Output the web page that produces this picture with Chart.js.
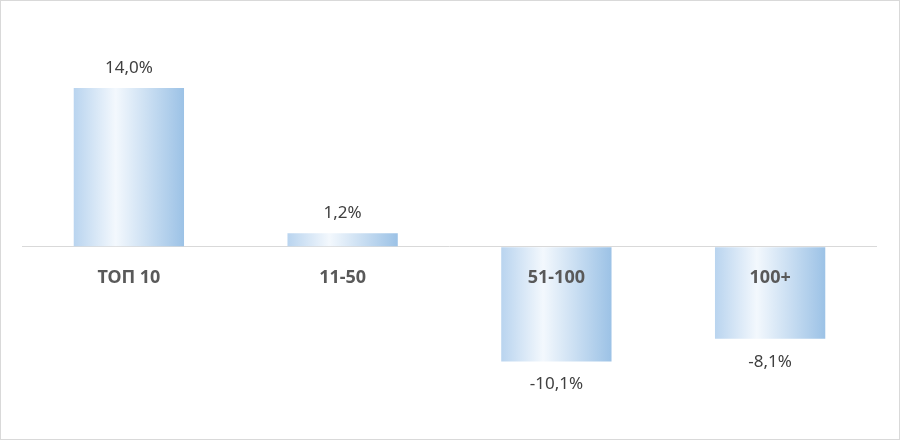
<!DOCTYPE html>
<html>
<head>
<meta charset="utf-8">
<script src="https://cdn.jsdelivr.net/npm/chart.js@4"></script>
<style>
  html, body { margin: 0; padding: 0; background: #fff; }
  #wrap { width: 900px; height: 440px; box-sizing: border-box; border: 1px solid #d9d9d9; }
</style>
</head>
<body>
<div id="wrap"><canvas id="groupChart"></canvas></div>
<script>
// Группы по рейтингу и изменение, %
const categories = ['ТОП 10', '11-50', '51-100', '100+'];
const values = [14.0, 1.2, -10.1, -8.1];
const valueLabels = ['14,0%', '1,2%', '-10,1%', '-8,1%'];

const barPct = 0.516;
const fontFamily = '"Noto Sans", "Open Sans", sans-serif';

// градиент по ширине столбца
function barGradient(ctx) {
  const chart = ctx.chart;
  if (!chart.chartArea || !chart.scales.x) return '#bdd7ee';
  const x = chart.scales.x;
  const cx = x.getPixelForValue(ctx.dataIndex);
  const w = (x.width / categories.length) * barPct;
  const g = chart.ctx.createLinearGradient(cx - w / 2, 0, cx + w / 2, 0);
  g.addColorStop(0, '#b9d4ef');
  g.addColorStop(0.38, '#f3f8fd');
  g.addColorStop(1, '#9cc2e6');
  return g;
}

// подписи значений и категорий
const labelsPlugin = {
  id: 'labelsPlugin',
  afterDatasetsDraw(chart) {
    const c = chart.ctx;
    const x = chart.scales.x;
    const y = chart.scales.y;
    const zero = y.getPixelForValue(0);
    const meta = chart.getDatasetMeta(0);
    c.save();
    c.textAlign = 'center';
    c.textBaseline = 'middle';
    meta.data.forEach((bar, i) => {
      c.font = '17px ' + fontFamily;
      c.fillStyle = '#404040';
      const ty = values[i] >= 0 ? bar.y - 20 : bar.y + 23;
      c.fillText(valueLabels[i], bar.x, ty);
      c.font = 'bold 18px ' + fontFamily;
      c.fillStyle = '#595959';
      c.fillText(categories[i], x.getPixelForValue(i), zero + 31);
    });
    c.restore();
  }
};

const chartCtx = document.getElementById('groupChart');
new Chart(chartCtx.getContext('2d'), {
  type: 'bar',
  data: {
    labels: categories,
    datasets: [{
      data: values,
      backgroundColor: barGradient,
      borderWidth: 0,
      barPercentage: barPct,
      categoryPercentage: 1
    }]
  },
  options: {
    responsive: true,
    maintainAspectRatio: false,
    animation: false,
    layout: { padding: { left: 21, right: 22, top: 19, bottom: 22 } },
    plugins: {
      legend: { display: false },
      tooltip: { enabled: false }
    },
    scales: {
      x: {
        display: false,
        grid: { display: false }
      },
      y: {
        min: -15,
        max: 20,
        ticks: { display: false, stepSize: 5 },
        border: { display: false },
        grid: {
          drawTicks: false,
          color: (ctx) => ctx.tick && ctx.tick.value === 0 ? '#d9d9d9' : 'rgba(0,0,0,0)',
          lineWidth: 1
        }
      }
    }
  },
  plugins: [labelsPlugin]
});
</script>
</body>
</html>
